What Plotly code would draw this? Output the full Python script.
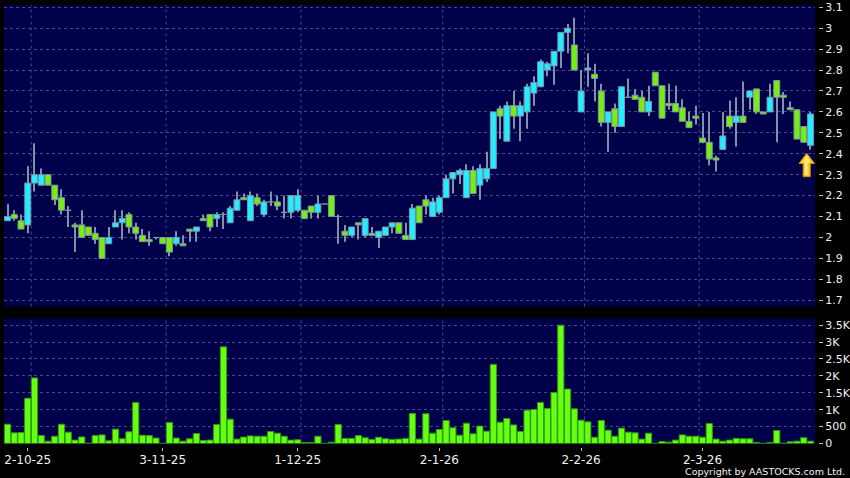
import plotly.graph_objects as go

opens = [2.08,2.11,2.08,2.06,2.26,2.25,2.30,2.25,2.19,2.13,
2.06,2.06,2.05,2.02,2.00,1.97,2.05,2.07,2.11,2.05,
2.01,1.99,2.00,2.00,2.00,1.97,1.97,2.04,2.03,2.09,
2.11,2.09,2.11,2.07,2.13,2.19,2.08,2.19,2.11,2.17,
2.17,2.12,2.12,2.13,2.13,2.15,2.12,2.16,2.20,2.10,
2.03,2.01,2.07,2.01,2.02,2.00,2.01,2.05,2.07,2.01,
1.99,2.15,2.18,2.10,2.12,2.19,2.28,2.30,2.19,2.32,
2.25,2.28,2.33,2.615,2.46,2.63,2.58,2.60,2.69,2.72,
2.80,2.82,2.89,2.98,2.92,2.60,2.80,2.78,2.70,2.55,
2.615,2.53,2.67,2.68,2.67,2.60,2.79,2.725,2.64,2.64,
2.62,2.555,2.58,2.475,2.455,2.38,2.42,2.58,2.55,2.58,
2.67,2.71,2.60,2.60,2.75,2.68,2.62,2.61,2.53,2.44]
closes = [2.10,2.09,2.04,2.26,2.30,2.30,2.25,2.18,2.13,2.13,
2.05,2.00,2.01,1.99,1.90,2.00,2.07,2.09,2.05,2.02,
1.98,1.98,2.00,1.97,1.93,2.00,1.96,2.03,2.05,2.08,
2.05,2.11,2.11,2.14,2.18,2.18,2.20,2.16,2.17,2.17,
2.15,2.12,2.20,2.20,2.09,2.12,2.16,2.16,2.10,2.10,
2.01,2.05,2.06,2.09,2.01,2.03,2.05,2.07,2.02,1.99,
2.14,2.07,2.15,2.17,2.19,2.28,2.31,2.32,2.32,2.21,
2.33,2.33,2.60,2.58,2.63,2.58,2.63,2.72,2.74,2.84,
2.83,2.89,2.98,3.00,2.80,2.70,2.81,2.76,2.55,2.60,
2.53,2.72,2.67,2.66,2.60,2.65,2.725,2.57,2.63,2.60,
2.555,2.525,2.57,2.455,2.375,2.37,2.485,2.53,2.58,2.55,
2.70,2.60,2.59,2.67,2.67,2.67,2.61,2.47,2.455,2.59]
highs = [2.16,2.13,2.11,2.34,2.45,2.33,2.30,2.25,2.23,2.15,
2.07,2.13,2.05,2.05,2.00,2.05,2.13,2.13,2.12,2.07,
2.04,2.03,2.00,2.00,2.00,2.03,2.01,2.04,2.05,2.11,
2.11,2.12,2.12,2.15,2.22,2.21,2.22,2.21,2.18,2.22,
2.20,2.20,2.20,2.23,2.13,2.15,2.20,2.16,2.20,2.11,
2.06,2.05,2.07,2.09,2.05,2.03,2.05,2.07,2.07,2.07,
2.16,2.15,2.20,2.19,2.20,2.30,2.31,2.33,2.35,2.34,
2.35,2.41,2.60,2.63,2.65,2.70,2.65,2.735,2.77,2.85,
2.84,2.89,2.98,3.02,3.05,2.80,2.88,2.83,2.735,2.60,
2.64,2.72,2.76,2.71,2.70,2.725,2.79,2.725,2.735,2.725,
2.66,2.60,2.63,2.595,2.60,2.39,2.60,2.655,2.67,2.745,
2.70,2.71,2.60,2.735,2.75,2.695,2.65,2.61,2.53,2.60]
lows = [2.08,2.08,2.04,2.02,2.22,2.25,2.25,2.155,2.11,2.05,
1.93,2.00,2.01,1.97,1.90,1.97,2.05,1.99,2.02,1.99,
1.98,1.96,1.99,1.97,1.91,1.96,1.96,1.98,1.98,2.08,
2.03,2.05,2.04,2.07,2.13,2.18,2.08,2.15,2.10,2.15,
2.13,2.09,2.09,2.12,2.09,2.09,2.09,2.16,2.10,1.97,
1.98,2.00,1.99,2.00,2.01,1.95,2.01,2.02,2.02,1.99,
1.99,2.07,2.11,2.10,2.11,2.19,2.21,2.255,2.19,2.21,
2.18,2.265,2.33,2.47,2.46,2.52,2.46,2.52,2.63,2.72,
2.77,2.73,2.81,2.88,2.80,2.60,2.72,2.65,2.53,2.41,
2.50,2.53,2.67,2.66,2.60,2.58,2.725,2.57,2.61,2.60,
2.555,2.525,2.54,2.45,2.345,2.315,2.42,2.52,2.435,2.55,
2.61,2.59,2.59,2.60,2.455,2.59,2.61,2.47,2.455,2.42]
volumes = [570,315,325,1340,1940,235,70,215,570,335,
100,195,10,235,255,80,425,140,345,1210,
245,235,160,5,620,160,70,140,295,90,
100,560,2860,720,130,190,225,215,215,355,
305,215,100,110,30,30,215,5,40,560,
150,150,235,170,120,185,140,120,130,150,
890,130,880,305,415,680,465,245,600,285,
515,365,2340,630,740,550,355,985,1005,1215,
1035,1510,3500,1610,1025,690,640,185,680,395,
215,455,335,315,130,305,5,60,40,100,
255,215,215,185,590,130,70,100,150,140,
140,30,5,30,385,10,50,70,170,70]

date_tick_positions = [3, 23, 43, 64, 85, 103]
date_tick_labels = ["2-10-25", "3-11-25", "1-12-25", "2-1-26", "2-2-26", "2-3-26"]
grid_positions = [3.5, 23.5, 43.5, 64.5, 85.5, 102.5]
price_ticks = [1.7,1.8,1.9,2.0,2.1,2.2,2.3,2.4,2.5,2.6,2.7,2.8,2.9,3.0,3.1]
price_labels = ["1.7","1.8","1.9","2","2.1","2.2","2.3","2.4","2.5","2.6","2.7","2.8","2.9","3","3.1"]
volume_ticks = [0,500,1000,1500,2000,2500,3000,3500]
volume_labels = ["0","500","1K","1.5K","2K","2.5K","3K","3.5K"]

W, H = 850, 478
PANEL = "#00004A"
GRID = "#4A4A88"
TEXT = "#F2F2F2"
CYAN = "#22EEFF"
LIME = "#77EE11"
EDGE = "#7F93A8"
xs = list(range(len(opens)))
xrange_ = [-0.52, 119.67]

def px(x): return x / W
def py(y): return 1 - y / H

fig = go.Figure()
# wicks: low to high
fig.add_trace(go.Bar(
    x=xs, y=[h - l for h, l in zip(highs, lows)], base=lows,
    xaxis="x", yaxis="y", width=0.15,
    marker=dict(color=EDGE, line=dict(width=0)),
    hoverinfo="skip", showlegend=False,
))
# real bodies: open to close (flat sessions still draw as a line)
fig.add_trace(go.Bar(
    x=xs, y=[abs(c - o) for o, c in zip(opens, closes)],
    base=[min(o, c) for o, c in zip(opens, closes)],
    xaxis="x", yaxis="y", width=0.88,
    marker=dict(color=[CYAN if c >= o else LIME for o, c in zip(opens, closes)],
                line=dict(color=EDGE, width=1)),
    hoverinfo="skip", showlegend=False,
))
fig.add_trace(go.Bar(
    x=xs, y=volumes, xaxis="x2", yaxis="y2", width=0.92,
    marker=dict(color="#66FF11", line=dict(color="#2F9A10", width=1)),
    hoverinfo="skip", showlegend=False,
))

shapes = []
for g in grid_positions:
    for xref, yref in (("x", "y domain"), ("x2", "y2 domain")):
        shapes.append(dict(type="line", xref=xref, yref=yref, x0=g, x1=g, y0=0, y1=1,
                           line=dict(color=GRID, width=1, dash="3px,3px"), layer="below"))

def path(points):
    return "M " + " L ".join(f"{px(a):.5f},{py(b):.5f}" for a, b in points) + " Z"

shapes.append(dict(type="path", xref="paper", yref="paper", layer="above",
                   path=path([(806.7,153.3),(814.5,163.5),(810.2,163.5),(810.2,176.7),(803.2,176.7),(803.2,163.5),(799,163.5)]),
                   fillcolor="#FFC72E", line=dict(color="#D98E10", width=1)))
shapes.append(dict(type="path", xref="paper", yref="paper", layer="above",
                   path=path([(806.5,155.5),(810.5,162),(807.5,163),(807.5,175),(805,175),(805,163),(803,162)]),
                   fillcolor="#FFEE77", line=dict(width=0)))

axis_common = dict(showline=False, zeroline=False, fixedrange=True, automargin=False)
fig.update_layout(
    width=W, height=H, autosize=False,
    margin=dict(l=0, r=0, t=0, b=0, pad=0, autoexpand=False),
    paper_bgcolor="#000000", plot_bgcolor=PANEL,
    barmode="overlay", bargap=0.08, showlegend=False,
    font=dict(family="DejaVu Sans", color=TEXT, size=11),
    shapes=shapes,
    xaxis=dict(domain=[px(4), px(815)], range=xrange_, anchor="y", showticklabels=False,
               ticks="", showgrid=False, **axis_common),
    yaxis=dict(domain=[py(306.5), py(5)], range=[1.67, 3.111], anchor="free", position=px(818),
               side="right", tickmode="array", tickvals=price_ticks, ticktext=price_labels,
               ticks="outside", ticklen=4, tickwidth=1, tickcolor="#BBBBBB",
               showgrid=True, gridcolor=GRID, griddash="3px,3px", gridwidth=1,
               tickfont=dict(size=11, color=TEXT), **axis_common),
    xaxis2=dict(domain=[px(4), px(815)], range=xrange_, anchor="free", position=py(447),
                tickmode="array", tickvals=date_tick_positions, ticktext=date_tick_labels,
                ticks="outside", ticklen=3, tickwidth=1, tickcolor="#BBBBBB", showgrid=False,
                ticklabelstandoff=-1,
                tickfont=dict(size=12, color=TEXT), **axis_common),
    yaxis2=dict(domain=[py(443.5), py(318.5)], range=[0, 3698], anchor="free", position=px(818),
                side="right", tickmode="array", tickvals=volume_ticks, ticktext=volume_labels,
                ticks="outside", ticklen=4, tickwidth=1, tickcolor="#BBBBBB",
                showgrid=True, gridcolor=GRID, griddash="3px,3px", gridwidth=1,
                tickfont=dict(size=11, color=TEXT), **axis_common),
    annotations=[dict(text="Copyright by AASTOCKS.com Ltd.", xref="paper", yref="paper",
                      x=px(847), y=py(471), xanchor="right", yanchor="middle", showarrow=False,
                      font=dict(family="DejaVu Sans", size=9.5, color=TEXT))],
)
fig.write_html("out.html", config=dict(displayModeBar=False),
               post_script="document.body.style.margin='0';document.body.style.background='#000';")
